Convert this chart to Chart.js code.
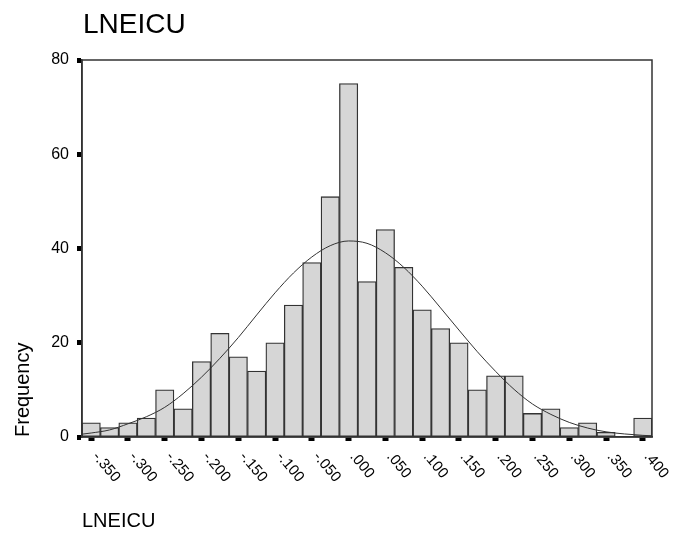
<!DOCTYPE html>
<html>
<head>
<meta charset="utf-8">
<script src="https://cdn.jsdelivr.net/npm/chart.js@4/dist/chart.umd.min.js"></script>
<style>
  html, body { margin: 0; padding: 0; background: #ffffff; }
  #wrap { width: 690px; height: 533px; }
</style>
</head>
<body>
<div id="wrap"><canvas id="c" width="690" height="533"></canvas></div>
<script>
// ---- data ----
const chartTitle = 'LNEICU';
const xAxisTitle = 'LNEICU';
const yAxisTitle = 'Frequency';

// bin centres (bin width .025)
const binCenters = [
  -0.350, -0.325, -0.300, -0.275, -0.250, -0.225, -0.200, -0.175, -0.150, -0.125, -0.100,
  -0.075, -0.050, -0.025, 0.000, 0.025, 0.050, 0.075, 0.100, 0.125, 0.150,
  0.175, 0.200, 0.225, 0.250, 0.275, 0.300, 0.325, 0.350, 0.375, 0.400
];
const frequencies = [
  3, 2, 3, 4, 10, 6, 16, 22, 17, 14, 20,
  28, 37, 51, 75, 33, 44, 36, 27, 23, 20,
  10, 13, 13, 5, 6, 2, 3, 1, 0, 4
];

// fitted normal curve
const curveX = [
  -0.3625, -0.350, -0.325, -0.300, -0.275, -0.250, -0.225, -0.200, -0.175, -0.150, -0.125, -0.100,
  -0.075, -0.050, -0.025, 0.000, 0.025, 0.050, 0.075, 0.100, 0.125, 0.150,
  0.175, 0.200, 0.225, 0.250, 0.275, 0.300, 0.325, 0.350, 0.375, 0.400, 0.4125
];
const curveY = [
  0.6, 0.85, 1.5, 2.8, 4.3, 6.3, 9.2, 12.7, 16.7, 21.1, 25.9, 30.6,
  34.8, 38.2, 40.6, 41.6, 41.1, 39.1, 36.0, 32.0, 27.4, 22.7,
  18.1, 13.9, 10.1, 7.0, 4.8, 3.1, 1.9, 1.1, 0.65, 0.35, 0.25
];

const xTicks = [-0.35, -0.30, -0.25, -0.20, -0.15, -0.10, -0.05, 0.00, 0.05, 0.10, 0.15, 0.20, 0.25, 0.30, 0.35, 0.40];
const xTickLabels = ['-.350', '-.300', '-.250', '-.200', '-.150', '-.100', '-.050', '.000', '.050', '.100', '.150', '.200', '.250', '.300', '.350', '.400'];
const yTicks = [0, 20, 40, 60, 80];

const xMin = -0.3625, xMax = 0.4125;
const FONT = 'Arial, "Liberation Sans", sans-serif';

// ---- plugin: frame, rotated x labels, chart title ----
const decor = {
  id: 'decor',
  afterDatasetsDraw(chart) {
    const { ctx, chartArea: a } = chart;
    ctx.save();
    ctx.strokeStyle = '#333333';
    ctx.lineWidth = 1.5;
    ctx.strokeRect(a.left, a.top, a.right - a.left, a.bottom - a.top);
    ctx.restore();
  },
  afterDraw(chart) {
    const { ctx, chartArea: a } = chart;
    const xs = chart.scales.x;
    ctx.save();
    ctx.fillStyle = '#000000';
    ctx.font = '15px ' + FONT;
    ctx.textAlign = 'left';
    ctx.textBaseline = 'middle';
    xTicks.forEach((v, i) => {
      const px = xs.getPixelForValue(v);
      ctx.save();
      ctx.translate(px + 4, a.bottom + 17);
      ctx.rotate(50 * Math.PI / 180);
      ctx.fillText(xTickLabels[i], 0, 0);
      ctx.restore();
    });
    ctx.font = '28px ' + FONT;
    ctx.textBaseline = 'alphabetic';
    ctx.fillText(chartTitle, a.left + 1, 33);
    ctx.restore();
  }
};

new Chart(document.getElementById('c'), {
  type: 'bar',
  data: {
    datasets: [
      {
        type: 'line',
        label: 'Normal',
        data: curveX.map((x, i) => ({ x: x, y: curveY[i] })),
        borderColor: '#333333',
        borderWidth: 1,
        pointRadius: 0,
        fill: false,
        cubicInterpolationMode: 'monotone',
        order: 0
      },
      {
        type: 'bar',
        label: 'Frequency',
        data: binCenters.map((x, i) => ({ x: x, y: frequencies[i] })),
        backgroundColor: '#d6d6d6',
        borderColor: '#333333',
        borderWidth: 1.3,
        borderSkipped: false,
        barPercentage: 1,
        categoryPercentage: 1,
        order: 1
      }
    ]
  },
  options: {
    responsive: false,
    animation: false,
    devicePixelRatio: 1,
    layout: { padding: { top: 60, right: 38, left: 0, bottom: 0 } },
    plugins: {
      legend: { display: false },
      title: { display: false },
      tooltip: { enabled: false }
    },
    scales: {
      x: {
        type: 'linear',
        min: xMin,
        max: xMax,
        offset: false,
        afterBuildTicks(scale) { scale.ticks = xTicks.map(v => ({ value: v })); },
        afterFit(scale) { scale.height = 96; },
        grid: {
          drawOnChartArea: false,
          drawTicks: true,
          tickLength: 4,
          tickWidth: 6,
          tickColor: '#000000',
          offset: false
        },
        border: { display: true, color: '#333333', width: 1.5 },
        ticks: { display: false },
        title: {
          display: true,
          text: xAxisTitle,
          align: 'start',
          color: '#000000',
          font: { family: FONT, size: 20 },
          padding: { top: 0, bottom: 0 }
        }
      },
      y: {
        min: 0,
        max: 80,
        afterBuildTicks(scale) { scale.ticks = yTicks.map(v => ({ value: v })); },
        afterFit(scale) { scale.width = 82; },
        grid: {
          drawOnChartArea: false,
          drawTicks: true,
          tickLength: 5,
          tickWidth: 5,
          tickColor: '#000000'
        },
        border: { display: true, color: '#333333', width: 1.5 },
        ticks: {
          color: '#000000',
          padding: 8,
          font: { family: FONT, size: 16 }
        },
        title: {
          display: true,
          text: yAxisTitle,
          align: 'start',
          color: '#000000',
          font: { family: FONT, size: 20 },
          padding: { top: 11, bottom: 0 }
        }
      }
    }
  },
  plugins: [decor]
});
</script>
</body>
</html>
